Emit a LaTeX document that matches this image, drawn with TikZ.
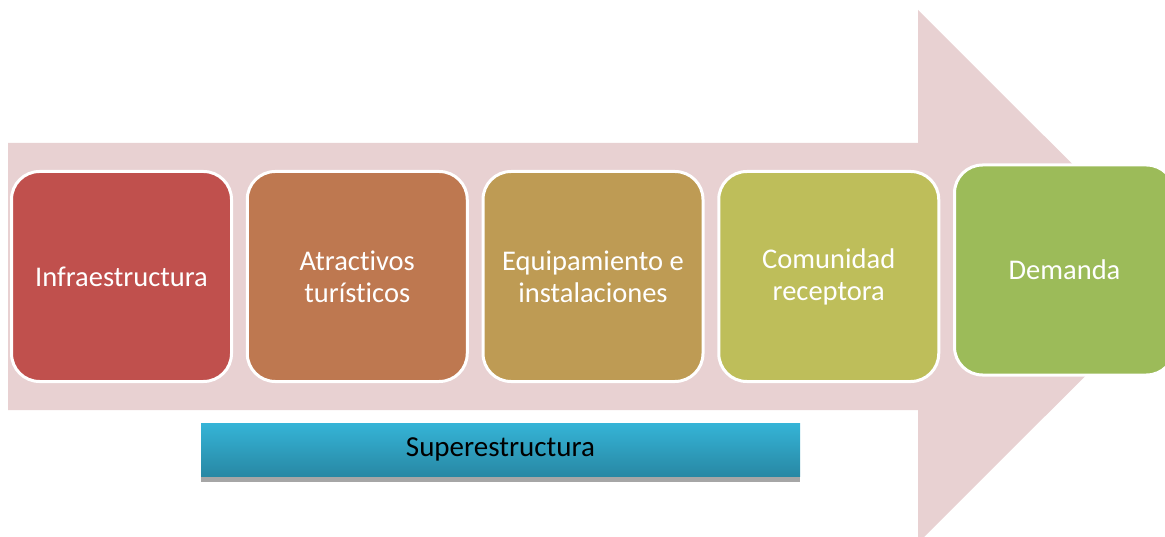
\documentclass[tikz,border=0pt]{standalone}
\usepackage{fontspec}
\setmainfont[Ligatures=NoCommon]{Carlito}
\usepackage{xcolor}
\usepackage{tikz}
\usetikzlibrary{positioning,shadows}

\definecolor{arrowpink}{RGB}{232,209,210}
\definecolor{infracol}{RGB}{192,80,77}
\definecolor{atraccol}{RGB}{190,120,80}
\definecolor{equipcol}{RGB}{190,155,84}
\definecolor{comuncol}{RGB}{190,190,90}
\definecolor{demcol}{RGB}{156,187,89}
\definecolor{supertop}{RGB}{53,180,215}
\definecolor{superbot}{RGB}{40,136,164}

\tikzset{
  stagebox/.style={draw=white, line width=3pt, rounded corners=28pt,
    minimum width=220pt, minimum height=210pt, text=white, align=center,
    font=\fontsize{28.5}{32}\selectfont},
  superbox/.style={top color=supertop, bottom color=superbot,
    minimum width=599pt, minimum height=53pt, inner sep=0pt,
    font=\fontsize{29}{32}\selectfont,
    drop shadow={shadow xshift=0pt, shadow yshift=-6pt, fill=black!35, opacity=1}}
}

\begin{document}
\begin{tikzpicture}[x=1pt, y=-1pt, node distance=12.75pt]
        \useasboundingbox (0,0) rectangle (1165,537);
        \clip (0,0) rectangle (1165,537);
        % big arrow behind the boxes
        \fill[arrowpink] (8,143) -- (918,143) -- (918,10) -- (1185,276.5)
            -- (918,543) -- (918,410) -- (8,410) -- cycle;

        \node [stagebox, fill=infracol] (infra) at (121.5,276.5) {Infraestructura};
        \node [stagebox, fill=atraccol, right=of infra] (atrac) {Atractivos\\turísticos};
        \node [stagebox, fill=equipcol, right=of atrac] (equip) {Equipamiento e\\instalaciones};
        \node [stagebox, fill=comuncol, right=of equip] (comun) {Comunidad\\receptora};
        \node [stagebox, fill=demcol, right=of comun, yshift=6.5pt] (dem) {Demanda};

        \node [superbox] (super) at (500.5,449.5) {Superestructura};
    \end{tikzpicture}
\end{document}
